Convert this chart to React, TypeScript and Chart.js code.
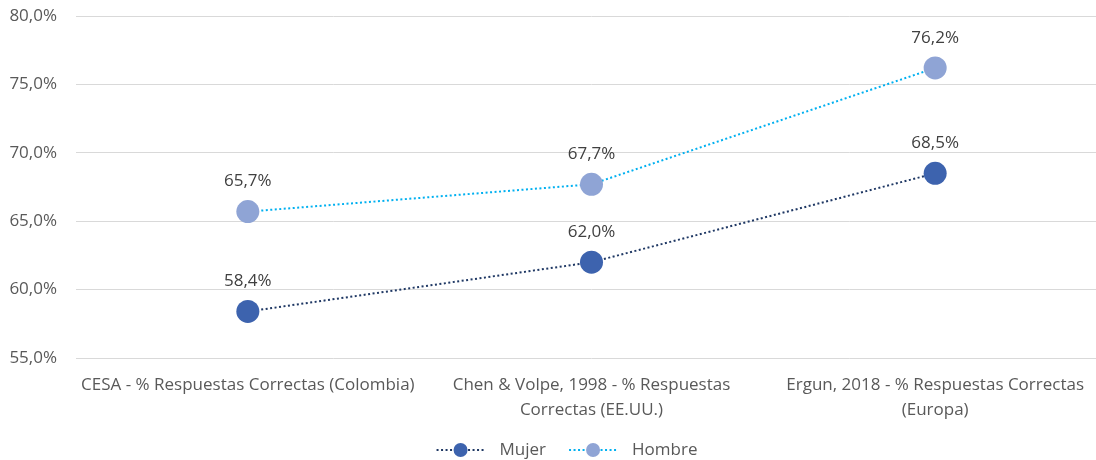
import React, { useEffect, useRef } from "react";
import { Chart, registerables } from "chart.js";

Chart.register(...registerables);

const categories: string[][] = [
  ["CESA - % Respuestas Correctas (Colombia)"],
  ["Chen & Volpe, 1998 - % Respuestas", "Correctas (EE.UU.)"],
  ["Ergun, 2018 - % Respuestas Correctas", "(Europa)"],
];
const mujer: number[] = [58.4, 62.0, 68.5];
const hombre: number[] = [65.7, 67.7, 76.2];
const seriesNames: string[] = ["Mujer", "Hombre"];

const FONT = "'Open Sans', sans-serif";
const FS = 17;
const fmt = (v: number) => v.toFixed(1).replace(".", ",") + "%";

const dataLabelPlugin = {
  id: "dataLabels",
  afterDatasetsDraw(chart: any) {
    const ctx = chart.ctx;
    ctx.save();
    ctx.font = `${FS}px ${FONT}`;
    ctx.fillStyle = "#404040";
    ctx.textAlign = "center";
    ctx.textBaseline = "middle";
    chart.data.datasets.forEach((ds: any, i: number) => {
      const meta = chart.getDatasetMeta(i);
      meta.data.forEach((pt: any, j: number) => {
        ctx.fillText(fmt(ds.data[j]), pt.x, pt.y - 30);
      });
    });
    ctx.restore();
  },
};

const legendPlugin = {
  id: "customLegend",
  afterDraw(chart: any) {
    const ctx = chart.ctx;
    ctx.save();
    ctx.font = `${FS}px ${FONT}`;
    ctx.textBaseline = "middle";
    const y = 450;
    const items = chart.data.datasets.map((ds: any) => ({
      label: ds.label,
      line: ds.borderColor,
      fill: ds.pointBackgroundColor,
    }));
    const lineW = 48;
    const gapText = 15;
    const gapItem = 23;
    const widths = items.map((it: any) => lineW + gapText + ctx.measureText(it.label).width);
    const total = widths.reduce((a: number, b: number) => a + b, 0) + gapItem * (items.length - 1);
    let x = chart.width / 2 - total / 2;
    items.forEach((it: any, i: number) => {
      ctx.strokeStyle = it.line;
      ctx.lineWidth = 2;
      ctx.setLineDash([2, 2.5]);
      ctx.beginPath();
      ctx.moveTo(x, y);
      ctx.lineTo(x + lineW, y);
      ctx.stroke();
      ctx.setLineDash([]);
      ctx.fillStyle = it.fill;
      ctx.beginPath();
      ctx.arc(x + lineW / 2, y, 7, 0, Math.PI * 2);
      ctx.fill();
      ctx.fillStyle = "#595959";
      ctx.textAlign = "left";
      ctx.fillText(it.label, x + lineW + gapText, y);
      x += widths[i] + gapItem;
    });
    ctx.restore();
  },
};

export default function App() {
  const ref = useRef<HTMLCanvasElement>(null);
  useEffect(() => {
    if (!ref.current) return;
    const chart = new Chart(ref.current, {
      type: "line",
      data: {
        labels: categories,
        datasets: [
          {
            label: seriesNames[0],
            data: mujer,
            borderColor: "#1F3864",
            borderWidth: 2,
            borderDash: [2, 2.5],
            pointBackgroundColor: "#3D63AE",
            pointBorderColor: "#3D63AE",
            pointRadius: 11.5,
            pointBorderWidth: 0,
            fill: false,
            tension: 0,
          },
          {
            label: seriesNames[1],
            data: hombre,
            borderColor: "#00B0F0",
            borderWidth: 2,
            borderDash: [2, 2.5],
            pointBackgroundColor: "#8FA4D5",
            pointBorderColor: "#8FA4D5",
            pointRadius: 11.5,
            pointBorderWidth: 0,
            fill: false,
            tension: 0,
          },
        ],
      },
      options: {
        responsive: false,
        animation: false,
        layout: { padding: { top: 16, right: 27, bottom: 32, left: 0 } },
        plugins: {
          legend: { display: false },
          tooltip: { enabled: false },
        },
        scales: {
          x: {
            offset: true,
            grid: { display: false, drawTicks: false },
            border: { display: false },
            ticks: {
              padding: 15,
              color: "#595959",
              font: { family: FONT, size: FS, lineHeight: 1.45 },
              maxRotation: 0,
              autoSkip: false,
            },
            afterFit(scale: any) {
              scale.height = 70;
              scale.paddingLeft = 0;
              scale.paddingRight = 0;
            },
          },
          y: {
            min: 55,
            max: 80,
            ticks: {
              stepSize: 5,
              padding: 19,
              color: "#595959",
              font: { family: FONT, size: FS },
              callback: (v: any) => fmt(Number(v)),
            },
            grid: { color: "#D9D9D9", lineWidth: 1, drawTicks: false },
            border: { display: false },
            afterFit(scale: any) {
              scale.width = 76;
              scale.paddingTop = 0;
              scale.paddingBottom = 0;
            },
          },
        },
      },
      plugins: [dataLabelPlugin, legendPlugin],
    });
    return () => chart.destroy();
  }, []);
  return (
    <div style={{ position: "absolute", left: 0, top: 0, width: 1096, height: 460, overflow: "hidden", background: "#fff" }}>
      <canvas ref={ref} width={1134} height={460} style={{ display: "block" }} />
    </div>
  );
}
